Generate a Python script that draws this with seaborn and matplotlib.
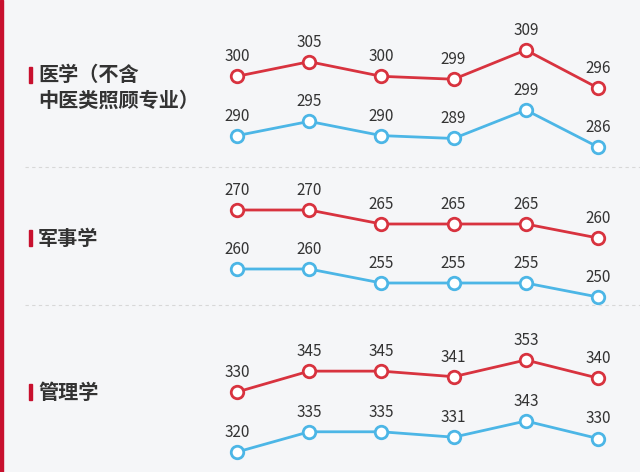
import matplotlib
matplotlib.use("Agg")
import matplotlib.pyplot as plt
import seaborn as sns
import pandas as pd

plt.rcParams["font.family"] = ["Noto Sans CJK SC", "DejaVu Sans"]

categories = ["医学（不含\n中医类照顾专业）", "军事学", "管理学"]
red_values = [[300, 305, 300, 299, 309, 296],
              [270, 270, 265, 265, 265, 260],
              [330, 345, 345, 341, 353, 340]]
blue_values = [[290, 295, 290, 289, 299, 286],
               [260, 260, 255, 255, 255, 250],
               [320, 335, 335, 331, 343, 330]]
# pixel bands (top, bottom) for each line's max/min
red_bands = [(50, 88), (210, 238), (360, 392)]
blue_bands = [(110, 147), (269, 297), (421, 452)]
label_y = [88, 238, 392]

RED = "#d8333f"
BLUE = "#4cb6e6"
W, H = 640, 472
fig = plt.figure(figsize=(6.4, 4.72), dpi=100)
fig.patch.set_facecolor("#f5f6f8")

fig.add_artist(plt.Rectangle((0, 0), 3 / W, 1, transform=fig.transFigure, color="#c8102e"))
for yy in [167, 305]:
    fig.add_artist(plt.Line2D([25 / W, 1], [1 - yy / H] * 2, transform=fig.transFigure,
                              color="#d8d8d8", lw=0.8, ls=(0, (3, 3))))

def draw(vals, band, color):
    top, bot = band
    ax = fig.add_axes([237 / W, 1 - bot / H, (598 - 237) / W, (bot - top) / H])
    df = pd.DataFrame({"x": range(len(vals)), "y": vals})
    sns.lineplot(data=df, x="x", y="y", ax=ax, color=color, lw=2, marker="o",
                 markersize=9, markerfacecolor="white", markeredgecolor=color,
                 markeredgewidth=2)
    ax.set_xlim(0, len(vals) - 1)
    ax.set_ylim(min(vals), max(vals))
    ax.axis("off")
    for x, v in zip(df["x"], vals):
        ax.annotate(str(v), (x, v), xytext=(0, 8), textcoords="offset points",
                    ha="center", va="bottom", fontsize=11, color="#333333",
                    annotation_clip=False)
    for l in ax.lines:
        l.set_clip_on(False)

for i in range(3):
    draw(red_values[i], red_bands[i], RED)
    draw(blue_values[i], blue_bands[i], BLUE)
    nlines = len(categories[i].split("\n"))
    y_first = label_y[i] - (nlines - 1) * 13
    fig.add_artist(plt.Rectangle((29 / W, 1 - (y_first + 8) / H), 3 / W, 16 / H,
                                 transform=fig.transFigure, color="#c8102e"))
    if nlines == 1:
        fig.text(38 / W, 1 - y_first / H, categories[i], fontsize=14.5, fontweight="bold",
                 color="#333333", va="center", ha="left")
    else:
        fig.text(38 / W, 1 - (y_first - 11) / H, categories[i], fontsize=14.5,
                 fontweight="bold", color="#333333", va="top", ha="left", linespacing=1.3)

fig.savefig("out.png", dpi=100, facecolor=fig.get_facecolor())
